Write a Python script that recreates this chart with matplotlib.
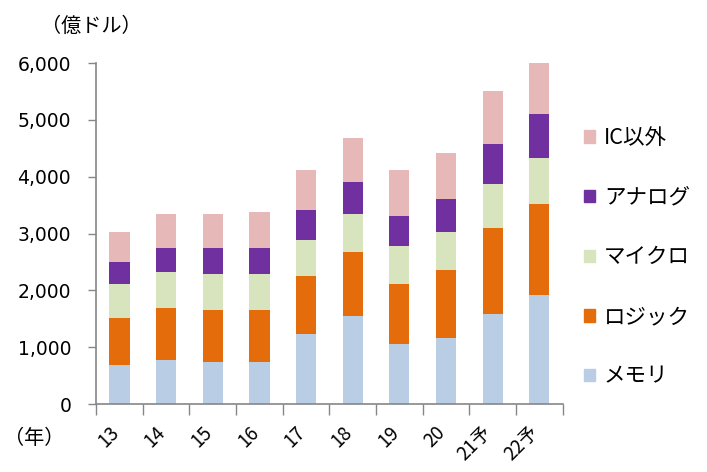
import matplotlib
matplotlib.use("Agg")
import matplotlib.pyplot as plt
import numpy as np
from matplotlib.patches import Patch

plt.rcParams["font.family"] = ["Noto Sans CJK JP", "DejaVu Sans"]

years = ["13", "14", "15", "16", "17", "18", "19", "20", "21予", "22予"]
memory = [680, 780, 740, 740, 1240, 1550, 1060, 1170, 1590, 1910]
logic = [830, 910, 910, 910, 1020, 1120, 1050, 1190, 1510, 1610]
micro = [610, 630, 630, 630, 630, 670, 670, 670, 780, 810]
analog = [380, 430, 460, 460, 530, 570, 530, 570, 700, 770]
non_ic = [530, 600, 600, 630, 700, 770, 810, 810, 920, 920]

series = [
    ("メモリ", memory, "#B9CDE5"),
    ("ロジック", logic, "#E46C0A"),
    ("マイクロ", micro, "#D7E4BD"),
    ("アナログ", analog, "#7030A0"),
    ("IC以外", non_ic, "#E6B9B8"),
]

fig = plt.figure(figsize=(7.07, 4.72), dpi=100)
ax = fig.add_axes([0.136, 0.144, 0.66, 0.7225])

x = np.arange(len(years))
bottom = np.zeros(len(years))
for name, vals, color in series:
    ax.bar(x, vals, width=0.43, bottom=bottom, color=color, label=name)
    bottom += np.array(vals)

ax.set_xlim(-0.5, len(years) - 0.5)
ax.set_ylim(0, 6000)
ax.set_yticks(range(0, 6001, 1000))
ax.set_yticklabels([f"{v:,}" for v in range(0, 6001, 1000)], fontsize=13.5,
                   family=["DejaVu Sans"])

# category boundaries get the tick marks, labels sit under the bars
ax.set_xticks(np.arange(-0.5, len(years)), minor=False)
ax.set_xticklabels([])
ax.set_xticks(x + 0.08, minor=True)
ax.set_xticklabels(years, minor=True, rotation=45, ha="right", fontsize=13.5)
ax.tick_params(axis="x", which="major", length=8, color="#868686", width=1)
ax.tick_params(axis="x", which="minor", length=0, pad=13)
ax.tick_params(axis="y", length=6, color="#868686", width=1, pad=12)

for side in ["top", "right"]:
    ax.spines[side].set_visible(False)
for side in ["left", "bottom"]:
    ax.spines[side].set_color("#868686")
    ax.spines[side].set_linewidth(1.2)

fig.text(0.058, 0.945, "（億ドル）", fontsize=14.5, va="center")
fig.text(0.005, 0.07, "（年）", fontsize=14.5, va="center")

handles = [Patch(color=c, label=n) for n, _, c in reversed(series)]
ax.legend(handles=handles, loc="center left", bbox_to_anchor=(1.005, 0.43),
          frameon=False, fontsize=15.5, handlelength=0.5, handleheight=0.5,
          labelspacing=1.75, handletextpad=0.4)

fig.savefig("out.png", dpi=100)
